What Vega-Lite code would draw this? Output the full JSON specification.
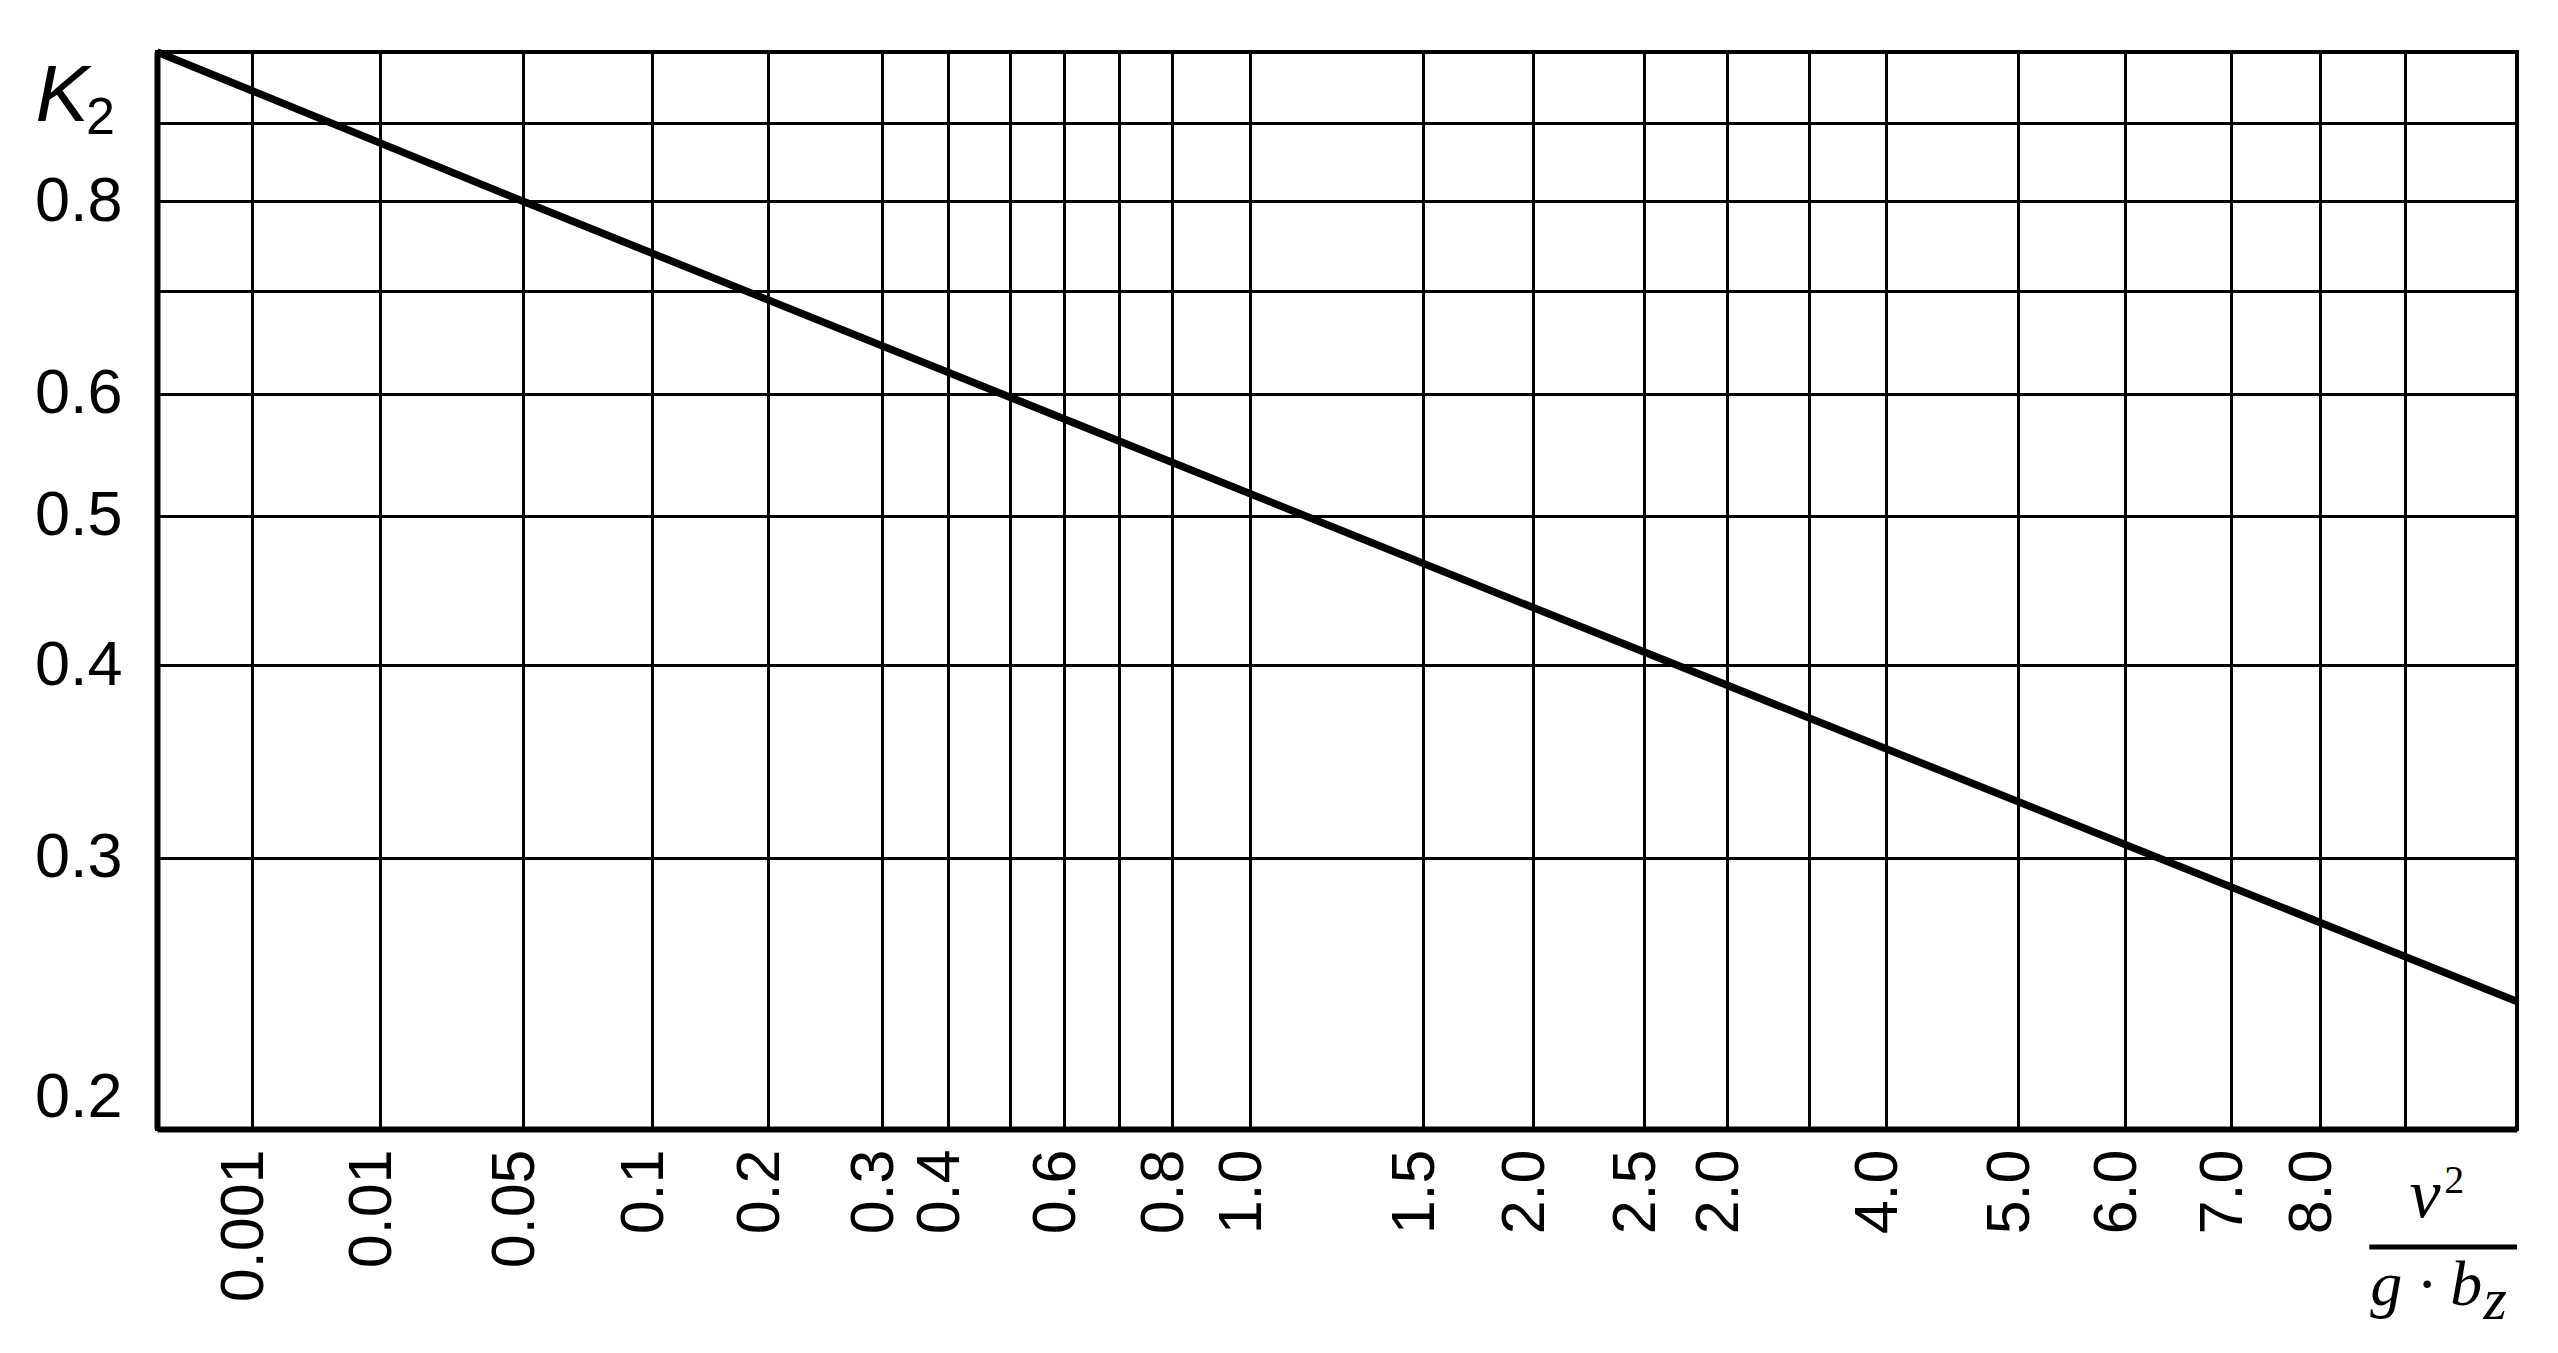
{
  "$schema": "https://vega.github.io/schema/vega-lite/v6.json",
  "width": 2360,
  "height": 1077,
  "autosize": {"type": "none"},
  "padding": {"left": 157, "top": 52, "right": 41, "bottom": 224},
  "background": "white",
  "config": {
    "view": {"stroke": "black", "strokeWidth": 4},
    "axis": {
      "grid": true,
      "gridColor": "black",
      "gridWidth": 3,
      "gridOpacity": 1,
      "ticks": false,
      "domainColor": "black",
      "domainWidth": 6,
      "labelColor": "black",
      "labelFont": "Liberation Sans",
      "labelOverlap": false,
      "labelBound": false
    }
  },
  "datasets": {
    "curve": [
      {"x": 0, "K": 1.0},
      {"x": 0.05, "K": 0.8},
      {"x": 0.5, "K": 0.597},
      {"x": 2.0, "K": 0.436},
      {"x": 6.0, "K": 0.306},
      {"x": 10, "K": 0.242}
    ]
  },
  "layer": [
    {
      "data": {"name": "curve"},
      "mark": {"type": "line", "color": "black", "strokeWidth": 7.5, "strokeCap": "butt", "clip": false},
      "encoding": {
        "x": {
          "field": "x",
          "type": "quantitative",
          "scale": {
            "type": "linear",
            "domain": [0, 0.001, 0.01, 0.05, 0.1, 0.2, 0.3, 0.4, 0.5, 0.6, 0.7, 0.8, 1, 1.5, 2, 2.5, 3, 3.5, 4, 5, 6, 7, 8, 9, 10],
            "range": [0, 95, 223, 366, 495, 611, 725, 791, 853, 907, 962, 1015, 1093, 1266, 1376, 1487, 1570, 1652, 1729, 1861, 1968, 2074, 2163, 2248, 2360],
            "nice": false,
            "zero": false
          },
          "axis": {
            "values": [0.001, 0.01, 0.05, 0.1, 0.2, 0.3, 0.4, 0.5, 0.6, 0.7, 0.8, 1, 1.5, 2, 2.5, 3, 3.5, 4, 5, 6, 7, 8, 9],
            "labelExpr": "indexof([0.5, 0.7, 3.5, 9], datum.value) >= 0 ? '' : datum.value == 3 ? '2.0' : datum.value >= 1 ? format(datum.value, '.1f') : format(datum.value, '~g')",
            "labelAngle": 270,
            "labelAlign": "right",
            "labelBaseline": "middle",
            "labelPadding": 20,
            "labelOffset": -8,
            "labelFontSize": 61,
            "labelFlush": false,
            "title": null
          }
        },
        "y": {
          "field": "K",
          "type": "quantitative",
          "scale": {"type": "log", "domain": [0.2, 1.0], "nice": false},
          "axis": {
            "values": [0.2, 0.3, 0.4, 0.5, 0.6, 0.7, 0.8, 0.9, 1],
            "labelExpr": "indexof([0.7, 0.9, 1], datum.value) >= 0 ? '' : format(datum.value, '.1f')",
            "labelFontSize": 63,
            "labelPadding": 35,
            "labelFlush": true,
            "labelFlushOffset": 0,
            "title": "K",
            "titleAngle": 0,
            "titleFont": "Liberation Sans",
            "titleFontStyle": "italic",
            "titleFontWeight": "normal",
            "titleFontSize": 80,
            "titleColor": "black",
            "titleX": -122,
            "titleY": 68,
            "titleAlign": "left",
            "titleBaseline": "alphabetic"
          }
        }
      }
    },
    {
      "data": {"values": [{}]},
      "mark": {"type": "text", "text": "2", "font": "Liberation Sans", "fontSize": 52, "color": "black", "align": "left", "baseline": "alphabetic", "dx": -71, "dy": 82},
      "encoding": {
        "x": {"datum": 0, "type": "quantitative"},
        "y": {"datum": 1.0, "type": "quantitative"}
      }
    },
    {
      "data": {"values": [{}]},
      "mark": {"type": "text", "text": "v", "font": "Liberation Serif", "fontStyle": "italic", "fontSize": 70, "color": "black", "align": "left", "baseline": "alphabetic", "dy": 88},
      "encoding": {
        "x": {"datum": 9.04, "type": "quantitative"},
        "y": {"datum": 0.2, "type": "quantitative"}
      }
    },
    {
      "data": {"values": [{}]},
      "mark": {"type": "text", "text": "2", "font": "Liberation Serif", "fontSize": 40, "color": "black", "align": "left", "baseline": "alphabetic", "dy": 64},
      "encoding": {
        "x": {"datum": 9.35, "type": "quantitative"},
        "y": {"datum": 0.2, "type": "quantitative"}
      }
    },
    {
      "data": {"values": [{}]},
      "mark": {"type": "rule", "color": "black", "strokeWidth": 5, "yOffset": 118},
      "encoding": {
        "x": {"datum": 8.58, "type": "quantitative"},
        "x2": {"datum": 10},
        "y": {"datum": 0.2, "type": "quantitative"}
      }
    },
    {
      "data": {"values": [{}]},
      "mark": {"type": "text", "text": "g · b", "font": "Liberation Serif", "fontStyle": "italic", "fontSize": 64, "color": "black", "align": "left", "baseline": "alphabetic", "dy": 176},
      "encoding": {
        "x": {"datum": 8.59, "type": "quantitative"},
        "y": {"datum": 0.2, "type": "quantitative"}
      }
    },
    {
      "data": {"values": [{}]},
      "mark": {"type": "text", "text": "z", "font": "Liberation Serif", "fontStyle": "italic", "fontSize": 60, "color": "black", "align": "left", "baseline": "alphabetic", "dy": 190},
      "encoding": {
        "x": {"datum": 9.7, "type": "quantitative"},
        "y": {"datum": 0.2, "type": "quantitative"}
      }
    }
  ]
}
